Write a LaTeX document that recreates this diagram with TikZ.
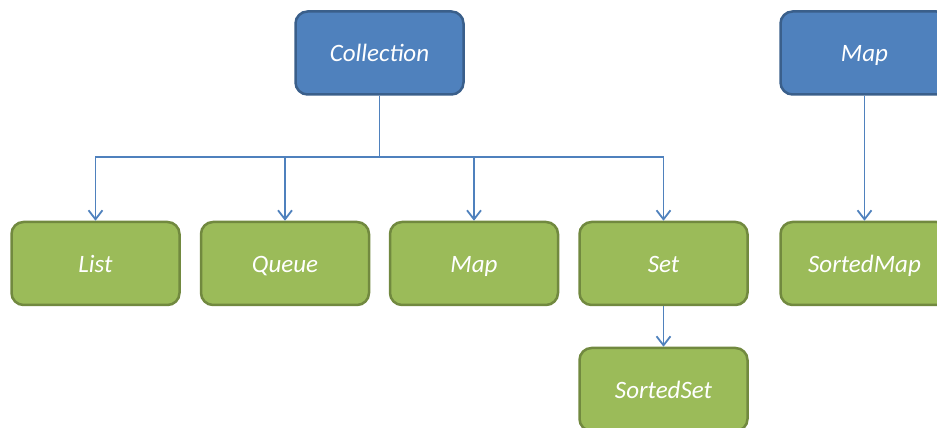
\documentclass[tikz,border=0pt]{standalone}
\usepackage{fontspec}
\setmainfont{Carlito}
\usetikzlibrary{arrows.meta}
\definecolor{topfill}{HTML}{4F81BD}
\definecolor{topline}{HTML}{3A5F8B}
\definecolor{subfill}{HTML}{9BBB59}
\definecolor{subline}{HTML}{71893F}
\definecolor{linkblue}{HTML}{4F81BD}

\begin{document}
\begin{tikzpicture}
    [
        x=1pt, y=1pt,
        topbox/.style = {draw=topline, fill=topfill, shape=rectangle, rounded corners=12pt, minimum width=168pt, minimum height=83pt, line width=2.5pt, text=white, text height=22pt, text depth=4pt, font=\fontsize{25}{30}\selectfont\itshape},
        subbox/.style = {topbox, draw=subline, fill=subfill},
        link/.style = {draw=linkblue, line width=1.8pt},
    ]

    \useasboundingbox (0,0) rectangle (937,428);

    \node[topbox] (coll) at (379.5,375)   {Collection};
    \node[topbox] (map)  at (864.5,375)   {Map};

    \node[subbox] (list)      at (95.5,164.5)  {List};
    \node[subbox] (queue)     at (285,164.5)   {Queue};
    \node[subbox] (mapsub)    at (474,164.5)   {Map};
    \node[subbox] (set)       at (663.5,164.5) {Set};
    \node[subbox] (sortedmap) at (864.5,164.5) {SortedMap};
    \node[subbox] (sortedset) at (663.5,38.5)  {SortedSet};

    \coordinate (fork) at (379.5,271);

    \foreach \sub in {list,queue,mapsub,set}
        \draw [link, -{Straight Barb[length=9pt,width=14pt]}] (coll.south) -- (fork) -| (\sub.north);

    \draw [link, -{Straight Barb[length=9pt,width=14pt]}] (set.south) -- (sortedset.north);
    \draw [link, -{Straight Barb[length=9pt,width=14pt]}] (map.south) -- (sortedmap.north);
\end{tikzpicture}
\end{document}
